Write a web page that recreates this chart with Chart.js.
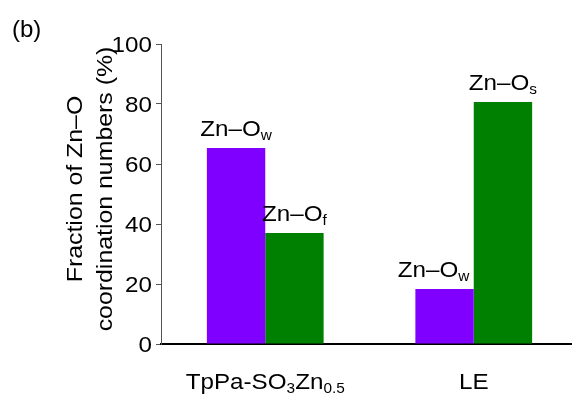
<!DOCTYPE html>
<html>
<head>
<meta charset="utf-8">
<script src="https://cdn.jsdelivr.net/npm/chart.js@4.4.0/dist/chart.umd.min.js"></script>
<style>
  html, body { margin: 0; padding: 0; background: #fff; overflow: hidden; }
  canvas { display: block; }
</style>
</head>
<body>
<canvas id="myChart" width="580" height="401"></canvas>
<script>
// Dados do gráfico
var categories = ['TpPa-SO3Zn0.5', 'LE'];
var categoryParts = [
    [['TpPa-SO', 0], ['3', 1], ['Zn', 0], ['0.5', 1]],
    [['LE', 0]]
];
var waterValues = [65.3, 18.3];
var otherValues = [37, 80.7];
var waterSubs = ['w', 'w'];
var otherSubs = ['f', 's'];
var yTicks = [0, 20, 40, 60, 80, 100];

var FONT = '"Liberation Sans", Arial, sans-serif';
var SX = 1.1; // texto um pouco mais largo

// desenha texto com subscritos
function drawRich(ctx, parts, x, y, size, align, sx) {
    sx = sx || SX;
    var sub = Math.round(size * 0.65);
    var w = 0;
    parts.forEach(function (p) {
        ctx.font = (p[1] ? sub : size) + 'px ' + FONT;
        w += ctx.measureText(p[0]).width * sx;
    });
    if (align === 'center') x -= w / 2;
    if (align === 'right') x -= w;
    parts.forEach(function (p) {
        ctx.font = (p[1] ? sub : size) + 'px ' + FONT;
        ctx.save();
        ctx.translate(x, y + (p[1] ? 4 : 0));
        ctx.scale(sx, 1);
        ctx.fillText(p[0], 0, 0);
        ctx.restore();
        x += ctx.measureText(p[0]).width * sx;
    });
}

// deslocamento horizontal dos rótulos das barras [dataset][categoria]
var labelShift = [[0, -11], [0, 0]];

var textPlugin = {
    id: 'textos',
    afterDraw: function (chart) {
        var ctx = chart.ctx;
        var xs = chart.scales.x, ys = chart.scales.y;
        ctx.save();
        ctx.fillStyle = '#000';
        ctx.textAlign = 'left';
        ctx.textBaseline = 'alphabetic';

        // rótulos do eixo y
        ys.ticks.forEach(function (t) {
            drawRich(ctx, [[String(t.value), 0]], 152, ys.getPixelForValue(t.value) + 8, 22, 'right');
        });

        // rótulos do eixo x
        categoryParts.forEach(function (parts, i) {
            drawRich(ctx, parts, xs.getPixelForValue(i), 389, 22, 'center');
        });

        // rótulos sobre as barras
        [waterSubs, otherSubs].forEach(function (subs, d) {
            chart.getDatasetMeta(d).data.forEach(function (bar, i) {
                drawRich(ctx, [['Zn\u2013O', 0], [subs[i], 1]], bar.x + labelShift[d][i], bar.y - 12, 22, 'center');
            });
        });

        // título do eixo y
        var cy = (ys.top + ys.bottom) / 2 - 5;
        [['Fraction of Zn\u2013O', 82], ['coordination numbers (%)', 112]].forEach(function (l) {
            ctx.save();
            ctx.translate(l[1], cy);
            ctx.rotate(-Math.PI / 2);
            drawRich(ctx, [[l[0], 0]], 0, 0, 22, 'center', 1.13);
            ctx.restore();
        });

        drawRich(ctx, [['(b)', 0]], 12, 37, 24, 'left', 1);
        ctx.restore();
    }
};

// Configuração do gráfico
var config = {
    type: 'bar',
    data: {
        labels: categories,
        datasets: [{
            label: 'Zn-Ow',
            data: waterValues,
            backgroundColor: 'rgb(128, 0, 255)',
            borderWidth: 0
        }, {
            label: 'Zn-Of / Zn-Os',
            data: otherValues,
            backgroundColor: 'rgb(0, 128, 0)',
            borderWidth: 0
        }]
    },
    options: {
        responsive: false,
        animation: false,
        barPercentage: 1,
        categoryPercentage: 0.56,
        layout: { padding: { left: 0, right: 2, top: 44, bottom: 57 } },
        plugins: { legend: { display: false }, tooltip: { enabled: false } },
        scales: {
            x: {
                afterFit: function (s) { s.height = 0; },
                ticks: { display: false },
                grid: { display: false },
                border: { display: true, color: '#000', width: 2 }
            },
            y: {
                min: 0,
                max: 100,
                afterBuildTicks: function (s) { s.ticks = yTicks.map(function (v) { return { value: v }; }); },
                afterFit: function (s) { s.width = 161; },
                ticks: { display: false },
                grid: { drawOnChartArea: false, drawTicks: true, tickLength: 5, color: '#555', lineWidth: 1 },
                border: { display: true, color: '#555', width: 1 }
            }
        }
    },
    plugins: [textPlugin]
};

// Renderização do gráfico
var ctx = document.getElementById('myChart').getContext('2d');
new Chart(ctx, config);
</script>
</body>
</html>
